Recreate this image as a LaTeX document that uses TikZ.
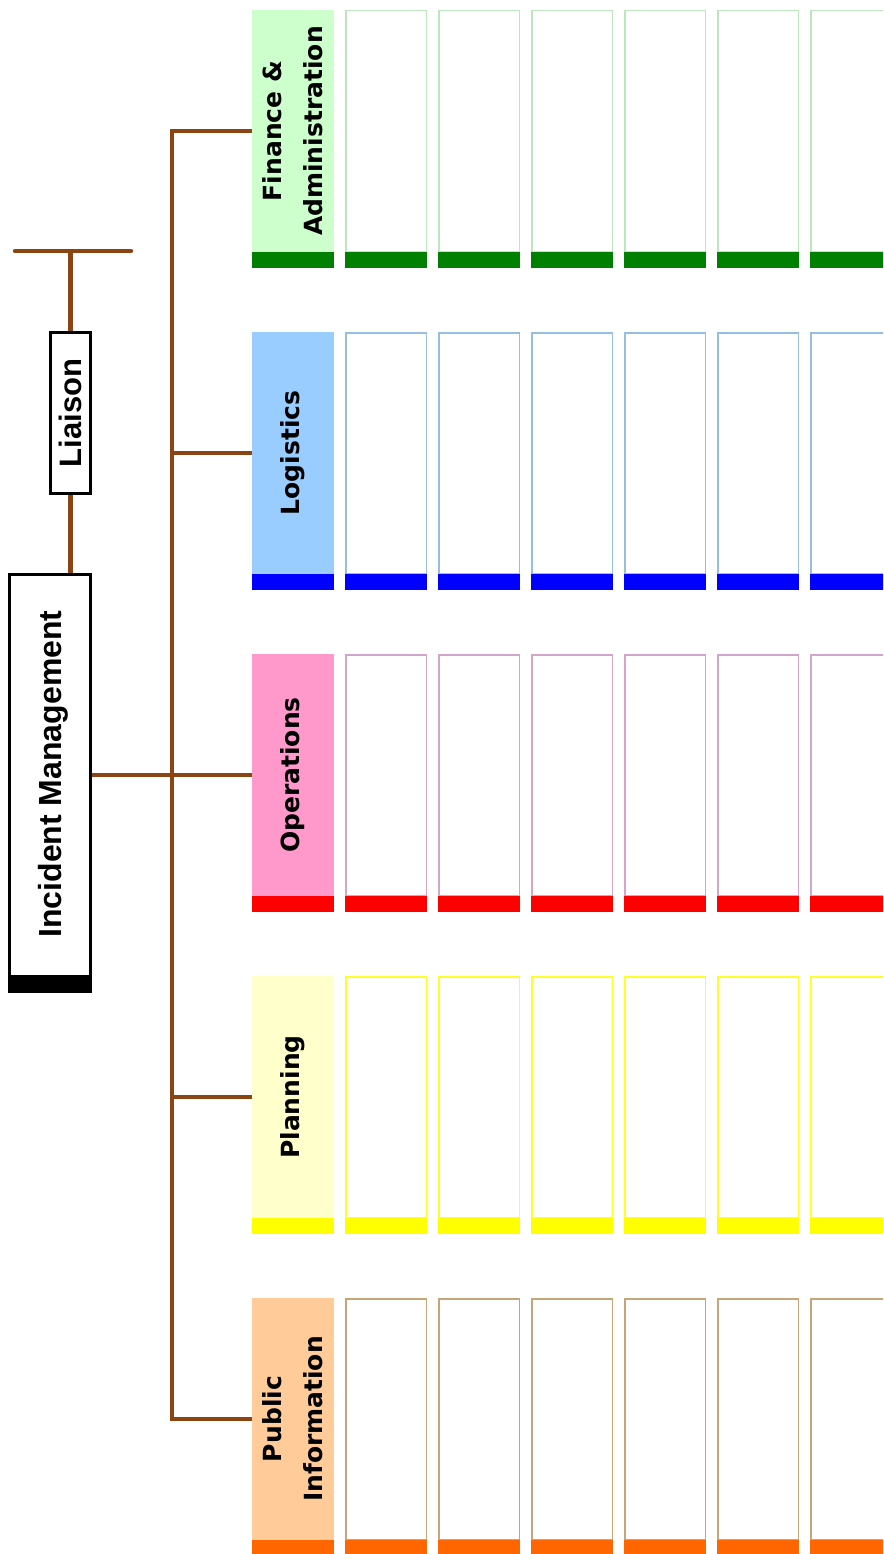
\documentclass[tikz,border=0pt]{standalone}
\usepackage{fontspec}
\newfontfamily\arialfont{Liberation Sans}
\newfontfamily\dejafont{DejaVu Sans}
\usetikzlibrary{calc}
\definecolor{brn}{RGB}{139,69,19}
\definecolor{finfill}{RGB}{204,255,204}
\definecolor{logfill}{RGB}{153,204,255}
\definecolor{opsfill}{RGB}{255,153,204}
\definecolor{plnfill}{RGB}{255,255,204}
\definecolor{pubfill}{RGB}{255,204,153}
\definecolor{finline}{RGB}{190,230,190}
\definecolor{logline}{RGB}{150,190,225}
\definecolor{opsline}{RGB}{210,165,205}
\definecolor{plnline}{RGB}{255,255,40}
\definecolor{publine}{RGB}{200,165,120}
\definecolor{finbar}{RGB}{0,128,0}
\definecolor{logbar}{RGB}{0,0,255}
\definecolor{opsbar}{RGB}{255,0,0}
\definecolor{plnbar}{RGB}{255,255,0}
\definecolor{pubbar}{RGB}{255,102,0}
\tikzset{
  hdr/.style={rectangle, inner sep=0pt, outer sep=0pt, minimum width=82pt, minimum height=242pt},
  cell/.style={line width=1.5pt},
  lbl/.style={rotate=90, align=center, inner sep=0pt, text=black,
    font=\dejafont\bfseries\fontsize{25}{41}\selectfont},
  conn/.style={draw=brn, line width=4.5pt, line join=miter},
  blkbox/.style={rectangle, draw=black, line width=3pt, fill=white, inner sep=0pt, outer sep=0pt},
  bigtxt/.style={inner sep=0pt, text=black, font=\arialfont\bfseries\fontsize{32}{38}\selectfont}
}
\begin{document}
\begin{tikzpicture}[x=1pt,y=-1pt]
\useasboundingbox (0,0) rectangle (883,1554);
\clip (0,0) rectangle (883,1554);
\fill[white] (0,0) rectangle (883,1554);

% department rows
\foreach \r/\nm/\fc/\lc/\bc/\txt in {
  0/fin/finfill/finline/finbar/{Finance \&\\Administration},
  1/log/logfill/logline/logbar/{Logistics},
  2/ops/opsfill/opsline/opsbar/{Operations},
  3/pln/plnfill/plnline/plnbar/{Planning},
  4/pub/pubfill/publine/pubbar/{Public\\Information}}{
  \pgfmathsetmacro\ty{10+322*\r}
  \node[hdr, fill=\fc] (\nm) at (293, \ty+121) {};
  \fill[\bc] (252, \ty+242) rectangle (334, \ty+258);
  \node[lbl] (\nm-t) at (\nm.center) {\txt};
  \foreach \c in {1,...,6}{
    \pgfmathsetmacro\xl{252+93*\c}
    \draw[cell, draw=\lc] (\xl+0.75, \ty+0.75) rectangle (\xl+81.25, \ty+242);
    \fill[\bc] (\xl, \ty+242) rectangle (\xl+82, \ty+258);
  }
}

% boxes on the left
\node[blkbox, minimum width=81pt, minimum height=417pt] (im) at (50,783) {};
\node[blkbox, minimum width=40pt, minimum height=161pt] (li) at (70.5,413) {};

% connectors
\coordinate (tk) at (172,0);
\coordinate (tjy) at (0,251);
\coordinate (tl) at (15,251);
\coordinate (tr) at (131,251);
\draw[conn] (fin.west) -- (fin.west -| tk) -- (pub.west -| tk) -- (pub.west);
\draw[conn] (log.west) -- (log.west -| tk);
\draw[conn] (pln.west) -- (pln.west -| tk);
\draw[conn] (ops.west -| im.east) -- (ops.west);
\draw[conn] (li.south) -- (li.south |- im.north);
\draw[conn] (li.north) -- (li.north |- tjy);
\draw[conn, line cap=round] (tl) -- (tr);

% redraw boxes on top of the connector ends
\node[blkbox, minimum width=81pt, minimum height=417pt] (im2) at (im.center) {};
\fill[black] ($(im2.south west)+(-1.5,1.5)$) rectangle ($(im2.south east)+(1.5,-16.5)$);
\node[bigtxt, rotate=90] (imt) at (53.5,774) {Incident Management};
\node[blkbox, minimum width=40pt, minimum height=161pt] (li2) at (li.center) {};
\node[bigtxt, font=\arialfont\bfseries\fontsize{31}{37}\selectfont] (lit) at (li.center) {\rotatebox{90}{Liaison}};
\end{tikzpicture}
\end{document}
